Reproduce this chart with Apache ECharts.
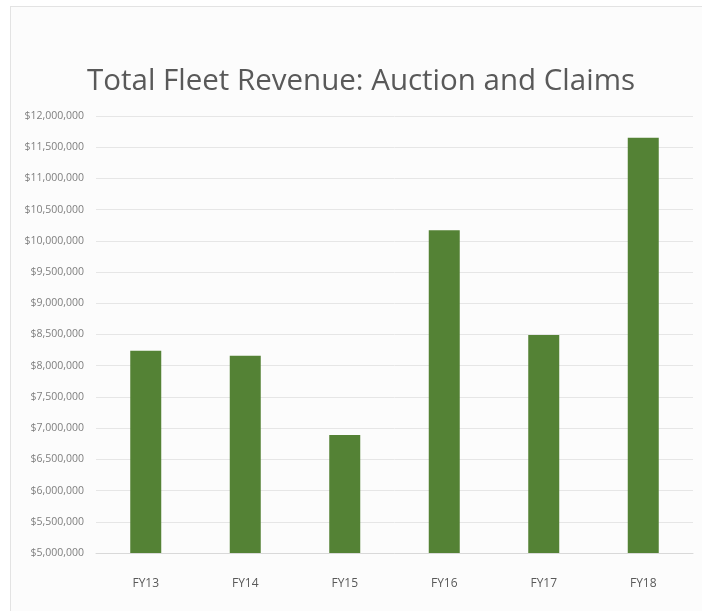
<!DOCTYPE html>
<html>
<head>
<meta charset="utf-8">
<script src="https://cdn.jsdelivr.net/npm/echarts@6/dist/echarts.min.js"></script>
<style>
html,body{margin:0;padding:0;background:#ffffff;}
#frame{position:absolute;left:10px;top:6px;width:700px;height:610px;border:1px solid #e3e3e3;background:#fcfcfc;}
#chart{position:absolute;left:0;top:0;width:702px;height:611px;}
</style>
</head>
<body>
<div id="frame"></div>
<div id="chart"></div>
<script>
const categories = ['FY13', 'FY14', 'FY15', 'FY16', 'FY17', 'FY18'];
const revenue = [8240000, 8160000, 6890000, 10170000, 8490000, 11650000];
const titleText = 'Total Fleet Revenue: Auction and Claims';

const chart = echarts.init(document.getElementById('chart'), null, {renderer: 'canvas'});
chart.setOption({
  backgroundColor: 'transparent',
  animation: false,
  title: {
    text: titleText,
    left: 82,
    top: 62,
    textStyle: {fontFamily: 'Open Sans', fontSize: 29.5, fontWeight: 'normal', color: '#595959'}
  },
  grid: {left: 96, right: 9, top: 116, bottom: 58, containLabel: false},
  xAxis: {
    type: 'category',
    data: categories,
    axisLine: {lineStyle: {color: '#d9d9d9'}},
    axisTick: {show: false},
    axisLabel: {margin: 25, fontFamily: 'Open Sans', fontSize: 12, color: '#595959'}
  },
  yAxis: {
    type: 'value',
    min: 5000000,
    max: 12000000,
    interval: 500000,
    axisLine: {show: false},
    axisTick: {show: false},
    splitLine: {lineStyle: {color: '#e6e6e6'}},
    axisLabel: {
      margin: 12,
      fontFamily: 'Open Sans',
      fontSize: 10.5,
      color: '#7f7f7f',
      formatter: v => '$' + v.toLocaleString('en-US')
    }
  },
  series: [{
    type: 'bar',
    data: revenue,
    barWidth: 31,
    itemStyle: {color: '#548235'}
  }]
});
</script>
</body>
</html>
